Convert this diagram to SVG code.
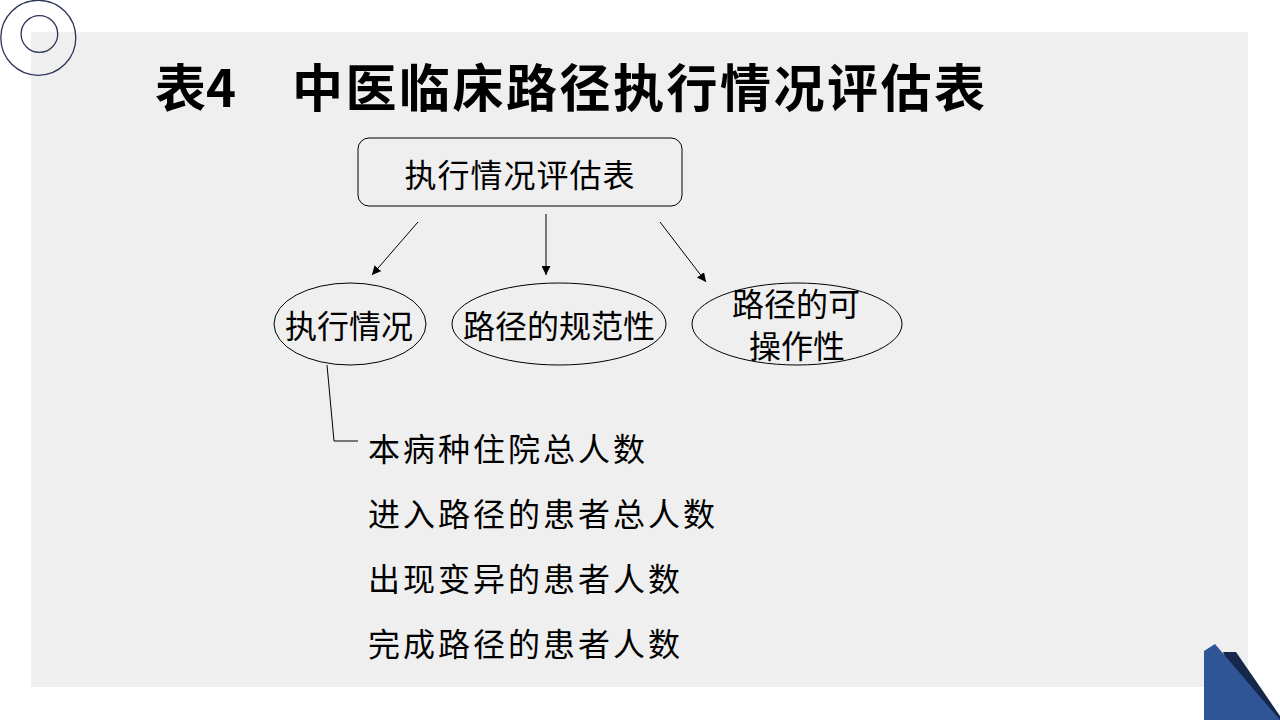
<svg xmlns="http://www.w3.org/2000/svg" width="1280" height="720" viewBox="0 0 1280 720">
<defs>
<marker id="ah" viewBox="0 0 10 10" refX="10" refY="5" markerWidth="9" markerHeight="9" markerUnits="userSpaceOnUse" orient="auto">
<path d="M0,0 L10,5 L0,10 z" fill="#000"/>
</marker>
<style>
.t{font-family:"Noto Sans CJK SC","Noto Sans",sans-serif;fill:#000}
.node{fill:none;stroke:#000;stroke-width:1}
.conn{fill:none;stroke:#000;stroke-width:1}
.deco{fill:none;stroke:#2b3556;stroke-width:1.3}
</style>
</defs>
<rect width="1280" height="720" fill="#fff"/>
<rect x="31" y="32" width="1217" height="655" fill="#efefef"/>
<g id="deco-circles">
<circle class="deco" cx="38.3" cy="37.8" r="37.5"/>
<circle class="deco" cx="39.4" cy="34" r="18.3"/>
</g>
<g id="corner">
<polygon points="1223,652 1236,652 1280,716 1280,720 1250,720" fill="#15274a"/>
<polygon points="1204,651 1215,644 1280,720 1204,720" fill="#2f5597"/>
</g>
<g id="title">
<text class="t" x="155" y="107" font-size="51" font-weight="bold">表4　<tspan x="292" letter-spacing="2.5">中医临床路径执行情况评估表</tspan></text>
</g>
<g id="connectors">
<line class="conn" x1="418" y1="222" x2="372" y2="275" marker-end="url(#ah)"/>
<line class="conn" x1="546" y1="214" x2="546" y2="275" marker-end="url(#ah)"/>
<line class="conn" x1="660" y1="222" x2="706" y2="282" marker-end="url(#ah)"/>
<polyline class="conn" points="327,365 334,441 358,441"/>
</g>
<g id="root">
<rect class="node" x="358" y="138" width="324" height="68" rx="11"/>
<text class="t" x="520" y="187" font-size="32" text-anchor="middle" letter-spacing="1">执行情况评估表</text>
</g>
<g id="n1">
<ellipse class="node" cx="350" cy="324" rx="76" ry="41"/>
<text class="t" x="349" y="338" font-size="32" text-anchor="middle">执行情况</text>
</g>
<g id="n2">
<ellipse class="node" cx="559" cy="324" rx="107" ry="41"/>
<text class="t" x="559" y="338" font-size="32" text-anchor="middle">路径的规范性</text>
</g>
<g id="n3">
<ellipse class="node" cx="797" cy="324" rx="105" ry="41"/>
<text class="t" x="796" y="316" font-size="32" text-anchor="middle">路径的可</text>
<text class="t" x="797" y="358" font-size="32" text-anchor="middle">操作性</text>
</g>
<g id="list">
<text class="t" x="368" y="461" font-size="32" letter-spacing="3">本病种住院总人数</text>
<text class="t" x="368" y="526" font-size="32" letter-spacing="3">进入路径的患者总人数</text>
<text class="t" x="368" y="591" font-size="32" letter-spacing="3">出现变异的患者人数</text>
<text class="t" x="368" y="656" font-size="32" letter-spacing="3">完成路径的患者人数</text>
</g>
</svg>
